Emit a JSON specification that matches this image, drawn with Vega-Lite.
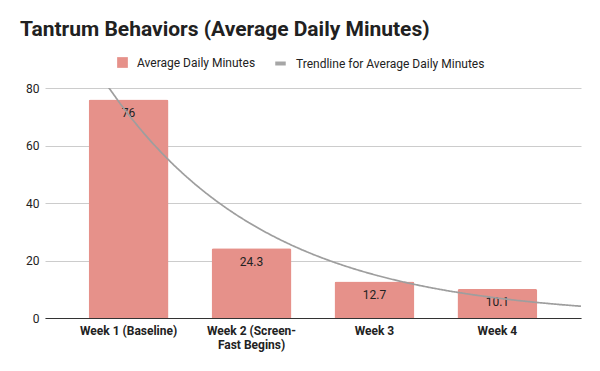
{
  "$schema": "https://vega.github.io/schema/vega-lite/v6.json",
  "width": 536,
  "height": 230,
  "autosize": {"type": "none"},
  "padding": {"left": 45, "top": 88, "right": 19, "bottom": 53},
  "background": "white",
  "config": {
    "font": "Roboto",
    "view": {"stroke": null}
  },
  "title": {
    "text": "Tantrum Behaviors (Average Daily Minutes)",
    "anchor": "start",
    "frame": "group",
    "fontSize": 21,
    "fontWeight": "bold",
    "color": "#212121",
    "baseline": "alphabetic",
    "dx": -25,
    "offset": -1
  },
  "data": {
    "values": [
      {"week": "Week 1 (Baseline)", "idx": 1, "minutes": 76},
      {"week": "Week 2 (Screen-Fast Begins)", "idx": 2, "minutes": 24.3},
      {"week": "Week 3", "idx": 3, "minutes": 12.7},
      {"week": "Week 4", "idx": 4, "minutes": 10.1}
    ]
  },
  "layer": [
    {
      "layer": [
        {
          "mark": {"type": "bar", "cornerRadiusTopLeft": 2, "cornerRadiusTopRight": 2},
          "encoding": {
            "x": {
              "field": "week",
              "type": "nominal",
              "sort": null,
              "scale": {"paddingInner": 0.35, "paddingOuter": 0.355},
              "axis": {
                "title": null,
                "labelAngle": 0,
                "labelFont": "Roboto",
                "labelFontSize": 12,
                "labelFontWeight": "bold",
                "labelColor": "#222222",
                "labelPadding": 7,
                "labelLineHeight": 14,
                "ticks": false,
                "domainColor": "#333333",
                "labelExpr": "datum.label == 'Week 2 (Screen-Fast Begins)' ? ['Week 2 (Screen-', 'Fast Begins)'] : datum.label"
              }
            },
            "y": {
              "field": "minutes",
              "type": "quantitative",
              "scale": {"domain": [0, 80], "nice": false},
              "axis": {
                "title": null,
                "values": [0, 20, 40, 60, 80],
                "domain": false,
                "ticks": false,
                "gridColor": "#cccccc",
                "labelFont": "Roboto",
                "labelFontSize": 12,
                "labelColor": "#222222",
                "labelPadding": 6
              }
            },
            "color": {
              "datum": "Average Daily Minutes",
              "scale": {"range": ["#e6918a"]},
              "legend": {
                "orient": "none",
                "legendX": 71,
                "legendY": -32,
                "title": null,
                "labelFont": "Roboto",
                "labelFontSize": 12,
                "labelColor": "#222222",
                "labelLimit": 400,
                "symbolType": "square",
                "symbolSize": 115,
                "symbolOpacity": 1,
                "labelOffset": 8
              }
            }
          }
        },
        {
          "mark": {"type": "text", "baseline": "middle", "dy": 13.5, "fontSize": 12, "font": "Roboto", "color": "#222222"},
          "encoding": {
            "x": {"field": "week", "type": "nominal", "sort": null},
            "y": {"field": "minutes", "type": "quantitative"},
            "text": {"field": "minutes", "type": "quantitative"}
          }
        }
      ]
    },
    {
      "transform": [
        {"regression": "minutes", "on": "idx", "method": "exp", "extent": [0.32, 4.68]}
      ],
      "mark": {"type": "line", "clip": true, "strokeWidth": 1.7, "color": "#9e9e9e"},
      "encoding": {
        "x": {
          "field": "idx",
          "type": "quantitative",
          "scale": {"domain": [0.32, 4.68], "nice": false, "zero": false},
          "axis": null
        },
        "y": {"field": "minutes", "type": "quantitative"},
        "strokeDash": {
          "datum": "Trendline for Average Daily Minutes",
          "scale": {"range": [[1, 0]]},
          "legend": {
            "orient": "none",
            "legendX": 228,
            "legendY": -32,
            "title": null,
            "labelFont": "Roboto",
            "labelFontSize": 12,
            "labelColor": "#222222",
            "labelLimit": 400,
            "symbolType": "stroke",
            "symbolSize": 110,
            "symbolStrokeColor": "#a6a6a6",
            "symbolStrokeWidth": 4,
            "labelOffset": 8
          }
        }
      }
    }
  ],
  "resolve": {"scale": {"x": "independent"}}
}
